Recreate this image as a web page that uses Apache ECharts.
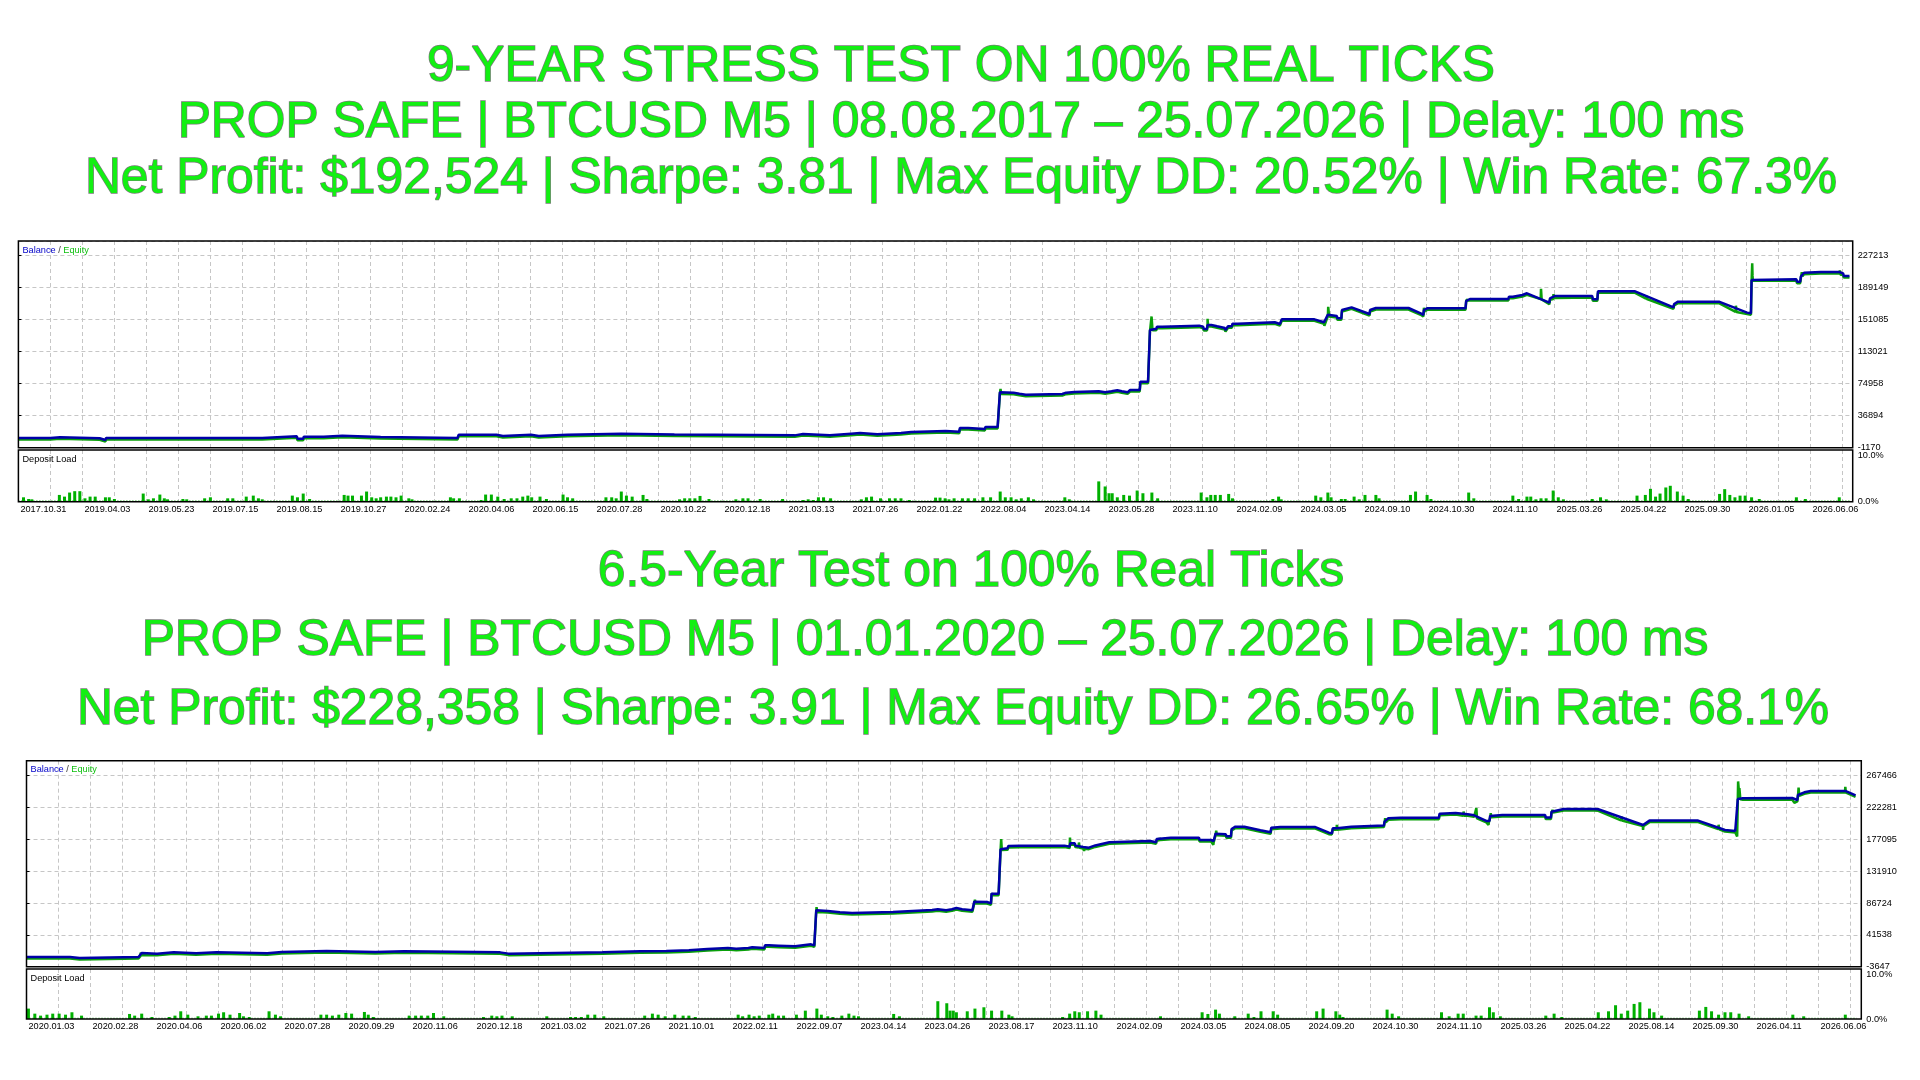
<!DOCTYPE html>
<html><head><meta charset="utf-8">
<script src="https://cdn.jsdelivr.net/npm/echarts@6/dist/echarts.min.js"></script>
<style>html,body{margin:0;padding:0;background:#fff}#c{width:1920px;height:1080px}</style>
</head><body><div id="c"></div>
<script>
// ---------- tick labels ----------
const dates1 = ['2017.10.31','2019.04.03','2019.05.23','2019.07.15','2019.08.15','2019.10.27','2020.02.24','2020.04.06','2020.06.15','2020.07.28','2020.10.22','2020.12.18','2021.03.13','2021.07.26','2022.01.22','2022.08.04','2023.04.14','2023.05.28','2023.11.10','2024.02.09','2024.03.05','2024.09.10','2024.10.30','2024.11.10','2025.03.26','2025.04.22','2025.09.30','2026.01.05','2026.06.06'];
const dates2 = ['2020.01.03','2020.02.28','2020.04.06','2020.06.02','2020.07.28','2020.09.29','2020.11.06','2020.12.18','2021.03.02','2021.07.26','2021.10.01','2022.02.11','2022.09.07','2023.04.14','2023.04.26','2023.08.17','2023.11.10','2024.02.09','2024.03.05','2024.08.05','2024.09.20','2024.10.30','2024.11.10','2025.03.26','2025.04.22','2025.08.14','2025.09.30','2026.04.11','2026.06.06'];
const yTicks1 = ['-1170','36894','74958','113021','151085','189149','227213'];
const yTicks2 = ['-3647','41538','86724','131910','177095','222281','267466'];
const depTicks = ['0.0%','10.0%'];

// ---------- titles ----------
const titleLines1 = ['9-YEAR STRESS TEST ON 100% REAL TICKS','PROP SAFE | BTCUSD M5 | 08.08.2017 \u2013 25.07.2026 | Delay: 100 ms','Net Profit: $192,524 | Sharpe: 3.81 | Max Equity DD: 20.52% | Win Rate: 67.3%'];
const titleLines2 = ['6.5-Year Test on 100% Real Ticks','PROP SAFE | BTCUSD M5 | 01.01.2020 \u2013 25.07.2026 | Delay: 100 ms','Net Profit: $228,358 | Sharpe: 3.91 | Max Equity DD: 26.65% | Win Rate: 68.1%'];

// ---------- chart 1 data (x in date-label units) ----------
const balance1 = [[0,10400],[0.5,10400],[0.52,11200],[0.65,11200],[0.66,10000],[1.27,10000],[1.28,8000],[1.36,8000],[1.37,10400],[3.81,10400],[3.82,12400],[4.35,12400],[4.36,9600],[4.45,9600],[4.46,12000],[4.77,12000],[4.78,13100],[5.06,13100],[5.07,11600],[5.66,11600],[5.67,10400],[6.86,10400],[6.88,14300],[7.47,14300],[7.48,12800],[7.57,12800],[7.58,14300],[8.01,14300],[8.02,12700],[8.13,12700],[8.14,14300],[8.58,14300],[8.60,15500],[9.42,15500],[9.43,14500],[10.25,14500],[10.28,13500],[12.13,13500],[12.14,15100],[12.26,15100],[12.27,13500],[12.68,13500],[12.69,15500],[13.01,15500],[13.02,16300],[13.15,16300],[13.16,14700],[13.42,14700],[13.43,16300],[13.79,16300],[13.80,17500],[13.95,17500],[13.96,18700],[14.49,18700],[14.50,17900],[14.70,17900],[14.71,22300],[14.84,22300],[14.85,21100],[15.10,21100],[15.11,23500],[15.30,23500],[15.335,64700],[15.55,64300],[15.56,63100],[15.64,63100],[15.65,61900],[15.74,61900],[15.75,62700],[16.31,62700],[16.32,64300],[16.37,64300],[16.38,65100],[16.50,65100],[16.51,65900],[16.88,65900],[16.89,64700],[16.98,64700],[16.99,65900],[17.08,65900],[17.09,67100],[17.17,67100],[17.18,65900],[17.24,65900],[17.25,64700],[17.33,64700],[17.34,63900],[17.36,63900],[17.37,67500],[17.52,67500],[17.53,77400],[17.65,77400],[17.68,138800],[17.70,140400],[17.78,140400],[17.79,142800],[17.87,142800],[17.88,144000],[18.45,144000],[18.46,142800],[18.51,142800],[18.52,140000],[18.57,140000],[18.58,144800],[18.64,144800],[18.65,143200],[18.73,143200],[18.74,141200],[18.85,141200],[18.86,138800],[18.89,138800],[18.90,143200],[18.96,143200],[18.97,146400],[19.05,146400],[19.06,148000],[19.63,148000],[19.64,146000],[19.71,146000],[19.74,151500],[20.25,151500],[20.40,148000],[20.41,147600],[20.46,157100],[20.60,155500],[20.61,152700],[20.67,152700],[20.68,162600],[20.83,165800],[21.11,157900],[21.12,162600],[21.21,165000],[21.72,165000],[21.91,158700],[21.95,156700],[21.96,162600],[22.01,164600],[22.61,164600],[22.62,173300],[22.68,175700],[23.28,175700],[23.29,178500],[23.35,178500],[23.36,180500],[23.50,180500],[23.51,182500],[23.57,182500],[23.92,171300],[23.93,176500],[24.01,179300],[24.59,179300],[24.60,175300],[24.67,175300],[24.68,184800],[25.26,184800],[25.86,165800],[25.87,169800],[25.93,172500],[26.57,172500],[27.01,159500],[27.07,158700],[27.08,198300],[27.10,199100],[27.78,199100],[27.79,196300],[27.84,196300],[27.85,202300],[27.90,207000],[28.16,207800],[28.45,207800],[28.46,206200],[28.51,206200],[28.52,203100],[28.61,203100]];
const equitySwings1 = [[15.34,64700],[15.345,70600],[15.355,64600],[17.70,140400],[17.705,156700],[17.72,140400],[18.575,140000],[18.58,153900],[18.59,144800],[20.405,145500],[20.46,157100],[20.465,168200],[20.48,156800],[21.955,156700],[21.96,167000],[21.97,162700],[22.62,173300],[22.625,176500],[22.635,174500],[23.785,177300],[23.79,189600],[23.80,177000],[23.98,177500],[23.985,183200],[24.00,178800],[25.43,177900],[25.435,181500],[25.445,177500],[26.83,162300],[26.835,169500],[26.845,162000],[27.085,198600],[27.09,220100],[27.095,205000],[27.11,199100],[27.845,194700],[27.86,204000],[27.865,209400],[27.875,204500],[28.455,206500],[28.46,211400],[28.47,206200]];
const deposit1 = [[0.08,0.96],[0.16,0.59],[0.21,0.52],[0.64,1.48],[0.72,1.11],[0.80,2.0],[0.88,2.3],[0.96,2.3],[1.04,0.74],[1.12,1.11],[1.20,1.11],[1.36,0.96],[1.42,0.96],[1.50,0.59],[1.95,1.78],[2.03,0.52],[2.11,0.74],[2.21,1.56],[2.28,0.74],[2.33,0.52],[2.57,0.59],[2.63,0.52],[2.91,0.74],[3.00,0.96],[3.27,0.74],[3.35,0.74],[3.56,1.11],[3.67,1.33],[3.75,0.74],[3.81,0.52],[4.28,1.33],[4.36,0.96],[4.45,1.78],[4.55,0.59],[5.09,1.48],[5.15,1.33],[5.22,1.33],[5.36,1.33],[5.44,2.22],[5.52,0.96],[5.59,0.74],[5.66,0.96],[5.75,1.11],[5.82,1.11],[5.90,0.96],[5.98,1.33],[6.10,0.74],[6.15,0.52],[6.75,0.96],[6.80,0.74],[6.89,0.74],[7.23,0.37],[7.30,1.56],[7.39,1.56],[7.49,1.11],[7.59,0.59],[7.70,0.74],[7.79,0.74],[7.88,1.11],[7.96,1.33],[8.02,0.96],[8.15,1.11],[8.25,0.59],[8.51,1.56],[8.58,0.96],[8.66,0.74],[9.18,0.96],[9.27,0.96],[9.34,0.74],[9.42,2.22],[9.50,1.33],[9.59,1.11],[9.76,1.48],[9.82,0.59],[10.33,0.52],[10.41,0.74],[10.49,0.74],[10.57,0.74],[10.65,1.26],[10.79,0.59],[11.21,0.52],[11.32,0.74],[11.40,0.74],[11.59,0.59],[11.94,0.59],[12.26,0.37],[12.34,0.52],[12.42,0.37],[12.50,0.96],[12.58,0.96],[12.69,0.74],[13.17,0.52],[13.25,0.96],[13.33,1.11],[13.47,0.74],[13.61,0.74],[13.70,0.74],[13.79,0.74],[13.92,0.37],[14.33,0.89],[14.40,0.89],[14.48,0.74],[14.54,0.52],[14.62,0.74],[14.75,0.74],[14.84,0.74],[14.94,0.74],[15.07,0.96],[15.19,0.96],[15.34,2.22],[15.42,0.96],[15.51,0.96],[15.59,0.52],[15.67,0.74],[15.78,0.96],[15.86,0.52],[16.35,0.96],[16.42,0.52],[16.88,4.44],[16.98,3.33],[17.04,1.85],[17.09,1.85],[17.17,0.96],[17.27,1.48],[17.36,1.33],[17.48,2.44],[17.57,1.85],[17.71,2.0],[17.80,0.74],[18.48,2.0],[18.57,0.96],[18.63,1.48],[18.70,1.48],[18.78,1.48],[18.91,1.70],[18.97,0.74],[19.60,0.59],[19.69,1.11],[19.73,0.52],[20.27,1.33],[20.35,0.96],[20.46,2.0],[20.51,0.96],[20.67,0.59],[20.73,0.59],[20.87,1.11],[20.95,0.52],[21.04,1.48],[21.21,1.48],[21.26,0.74],[21.75,1.48],[21.83,2.22],[22.01,1.48],[22.07,0.59],[22.66,2.0],[22.74,0.74],[23.35,1.33],[23.44,0.59],[23.57,1.11],[23.63,1.11],[23.71,0.52],[23.79,0.74],[23.87,0.74],[23.98,2.44],[24.06,0.96],[24.14,0.52],[24.59,0.59],[24.72,0.96],[24.81,0.52],[25.29,1.33],[25.42,1.48],[25.50,2.81],[25.58,1.11],[25.65,1.78],[25.74,3.11],[25.81,3.48],[25.92,2.22],[26.01,1.33],[26.09,0.59],[26.58,1.70],[26.66,2.74],[26.74,1.48],[26.82,0.96],[26.90,1.33],[26.98,1.33],[27.08,0.96],[27.20,0.59],[27.78,0.96],[27.92,0.59],[28.45,0.96]];
const depBase1 = [[0,0.18],[28.62,0.18]];

// ---------- chart 2 data ----------
const balance2 = [[0,10100],[0.68,10100],[0.69,8700],[0.83,8700],[0.84,10100],[1.75,10100],[1.80,15800],[1.81,14900],[2.04,14900],[2.05,16700],[2.30,16700],[2.31,15300],[2.65,15300],[2.66,16700],[2.97,16700],[2.98,15300],[3.76,15300],[3.77,17200],[3.99,17200],[4.00,18600],[4.69,18600],[4.70,17200],[5.45,17200],[5.46,18200],[5.90,18200],[5.91,16700],[7.40,16700],[7.41,14900],[7.53,14900],[7.54,16700],[9.00,16700],[9.01,18200],[9.59,18200],[10.00,18600],[10.01,19600],[10.35,19600],[10.36,21500],[10.64,21500],[10.65,22900],[10.96,22900],[10.97,22000],[11.09,22000],[11.10,22900],[11.28,22900],[11.29,23900],[11.34,23900],[11.35,22900],[11.53,22900],[11.54,26700],[11.60,26700],[11.61,26200],[11.75,26200],[11.76,25300],[12.01,25300],[12.02,28100],[12.26,28100],[12.27,26700],[12.31,26700],[12.34,76400],[12.52,75400],[12.53,73500],[12.71,73500],[12.72,72600],[12.90,72600],[12.91,74000],[13.54,74000],[13.55,76800],[14.15,76800],[14.16,77800],[14.24,77800],[14.25,76400],[14.37,76400],[14.38,77800],[14.46,77800],[14.47,79700],[14.53,79700],[14.54,77800],[14.62,77800],[14.63,76400],[14.78,76400],[14.81,88700],[15.01,88200],[15.02,86300],[15.07,86300],[15.08,100000],[15.19,100000],[15.22,163000],[15.33,164400],[15.34,167700],[15.52,168200],[16.22,168200],[16.23,166800],[16.30,166800],[16.31,171500],[16.38,171500],[16.39,168200],[16.51,166300],[16.60,165300],[16.70,168500],[16.92,172900],[16.93,174800],[17.56,174800],[17.57,172900],[17.65,172900],[17.66,177600],[17.88,179500],[18.32,179500],[18.33,176200],[18.51,176200],[18.55,174800],[18.58,185200],[18.74,184300],[18.75,181400],[18.82,181400],[18.83,191800],[18.89,195100],[19.03,195100],[19.28,189900],[19.44,187100],[19.45,193700],[19.59,194700],[20.13,194700],[20.35,186600],[20.40,185700],[20.41,192800],[20.48,192800],[20.49,195100],[20.70,195100],[20.71,196600],[21.21,196600],[21.22,202200],[21.28,207000],[21.47,207900],[22.07,207900],[22.08,213600],[22.10,214500],[22.33,214500],[22.34,212700],[22.52,212700],[22.53,211200],[22.62,211200],[22.81,203200],[22.86,203200],[22.87,210300],[23.06,211700],[23.73,211700],[23.74,208000],[23.82,208000],[23.83,216400],[24.02,220200],[24.50,220200],[24.56,219800],[25.26,197500],[25.27,199900],[25.36,203700],[26.12,203700],[26.54,190400],[26.70,189000],[26.74,234400],[26.82,235400],[27.59,235800],[27.60,233000],[27.67,233000],[27.68,240100],[27.78,243900],[27.88,245800],[28.42,245800],[28.51,242500],[28.58,239600]];
const equitySwings2 = [[1.78,13500],[1.785,18600],[1.795,15200],[12.345,83000],[12.355,76000],[14.815,88600],[14.82,93400],[14.83,88300],[15.085,102900],[15.095,100000],[15.225,163500],[15.23,179500],[15.24,164000],[16.305,181900],[16.315,171500],[16.44,167700],[16.445,174800],[16.455,167400],[16.52,166200],[16.525,163000],[16.535,166000],[17.70,178000],[17.705,181400],[17.715,178200],[18.54,175000],[18.545,171500],[18.55,175000],[18.585,185100],[18.59,191400],[18.60,185000],[20.395,186000],[20.40,183300],[20.405,186000],[20.47,192800],[20.475,199900],[20.485,193000],[21.225,202600],[21.23,209300],[21.24,203500],[22.45,212700],[22.455,218800],[22.465,212600],[22.65,209500],[22.655,223500],[22.665,209000],[22.84,203200],[22.845,199900],[22.85,203200],[22.875,210400],[22.88,216400],[22.89,210500],[23.825,205300],[23.84,217000],[23.845,221200],[23.855,217500],[24.915,206300],[24.92,211700],[24.93,206000],[25.255,198000],[25.26,192800],[25.265,197700],[26.435,193700],[26.44,199900],[26.45,193400],[26.72,189000],[26.73,183300],[26.745,261400],[26.76,245000],[26.765,251900],[26.78,236000],[27.625,231100],[27.685,240300],[27.69,252800],[27.70,241000],[28.415,245800],[28.42,253700],[28.43,245500]];
const deposit2 = [[0.03,2.35],[0.13,1.21],[0.22,0.76],[0.32,0.98],[0.41,1.21],[0.51,1.21],[0.61,0.98],[0.71,1.52],[0.86,0.76],[1.61,1.14],[1.69,0.76],[1.80,1.21],[1.96,0.45],[2.23,0.45],[2.32,0.76],[2.41,1.74],[2.52,0.98],[2.68,0.61],[2.81,0.76],[2.89,0.76],[3.00,1.21],[3.08,1.52],[3.18,0.98],[3.33,1.36],[3.39,0.61],[3.48,0.45],[3.79,1.74],[3.89,0.98],[3.97,0.61],[4.60,0.98],[4.69,0.98],[4.78,0.76],[4.88,0.98],[4.99,1.36],[5.08,1.21],[5.28,1.59],[5.34,0.98],[5.42,0.45],[5.98,0.76],[6.08,0.76],[6.17,0.76],[6.27,0.76],[6.36,1.36],[6.52,0.61],[7.14,0.45],[7.27,0.76],[7.35,0.61],[7.43,0.76],[7.59,0.61],[8.13,0.61],[8.50,0.45],[8.58,0.45],[8.67,0.45],[8.77,0.98],[8.88,0.98],[9.02,0.61],[9.66,0.76],[9.78,1.21],[9.87,0.98],[9.98,0.61],[10.13,0.98],[10.26,0.76],[10.35,0.76],[10.45,0.45],[11.12,0.98],[11.19,0.61],[11.29,0.98],[11.37,0.61],[11.45,0.76],[11.60,0.98],[11.66,1.21],[11.75,0.76],[11.83,0.76],[12.03,0.98],[12.17,1.89],[12.35,2.35],[12.42,0.98],[12.52,0.61],[12.60,0.45],[12.74,0.76],[12.85,1.21],[12.93,0.76],[13.00,0.61],[13.55,1.14],[13.64,0.61],[14.24,4.02],[14.38,3.56],[14.43,1.89],[14.48,1.89],[14.53,1.52],[14.70,1.74],[14.82,2.35],[14.96,2.65],[15.08,1.89],[15.24,1.89],[15.35,0.98],[15.40,0.61],[16.19,0.45],[16.30,1.21],[16.38,1.74],[16.45,1.52],[16.58,1.74],[16.71,1.89],[16.79,0.98],[17.72,0.61],[18.37,1.52],[18.46,1.14],[18.58,2.12],[18.64,1.21],[18.88,0.61],[19.09,1.21],[19.18,0.45],[19.29,1.74],[19.48,1.74],[19.55,0.98],[20.16,1.74],[20.26,2.35],[20.46,1.74],[20.52,0.98],[20.57,0.45],[21.26,2.12],[21.34,1.21],[21.44,0.61],[22.11,1.52],[22.23,0.61],[22.37,1.21],[22.45,1.21],[22.65,0.76],[22.73,0.76],[22.86,2.65],[22.92,1.52],[23.03,0.61],[23.74,0.76],[23.87,1.21],[23.99,0.45],[24.56,1.52],[24.72,1.74],[24.83,3.11],[24.92,1.21],[25.02,1.89],[25.12,3.41],[25.21,3.79],[25.36,2.35],[25.43,1.52],[25.55,0.76],[26.14,1.89],[26.24,2.73],[26.33,1.74],[26.44,0.98],[26.54,1.52],[26.63,1.52],[26.76,1.21],[26.91,0.61],[27.60,0.98],[27.77,0.61],[28.42,0.98]];
const depBase2 = [[0,0.18],[28.6,0.18]];

// ---------- build ----------
const FONT = '"Liberation Sans", Arial, sans-serif';
const grids = [], xAxes = [], yAxes = [], series = [], titles = [];

function addTitleLines(lines, centers, ys) {
  lines.forEach((t, i) => titles.push({
    text: t, left: centers[i], top: ys[i], textAlign: 'center', textVerticalAlign: 'middle', padding: 0,
    textStyle: { fontFamily: FONT, fontSize: 49.8, fontWeight: 'normal', color: '#12f012', textBorderColor: '#7a7a7a', textBorderWidth: 1.4 }
  }));
}

function addChart(geo, dates, yTicks, yMin, yMax, yInt, depMax, bal, swings, dep, base) {
  const g0 = grids.length;
  grids.push({ left: geo.left, top: geo.top, width: geo.width, height: geo.height, show: true, borderColor: '#000', borderWidth: 1.5, backgroundColor: 'transparent', z: 10 });
  grids.push({ left: geo.left, top: geo.top + 1.5, width: geo.width, height: geo.height, show: false });
  grids.push({ left: geo.left, top: geo.dTop, width: geo.width, height: geo.dHeight, show: true, borderColor: '#000', borderWidth: 1.5, backgroundColor: 'transparent', z: 10 });
  const split = { show: true, lineStyle: { color: '#c6c6c6', type: [4, 3], width: 1 } };
  const xb = { type: 'value', min: 0, max: geo.xMax, interval: 0.5, axisLine: { show: false }, axisTick: { show: false } };
  xAxes.push(Object.assign({}, xb, { gridIndex: g0, splitLine: split, axisLabel: { show: false } }));
  xAxes.push(Object.assign({}, xb, { gridIndex: g0 + 1, show: false, splitLine: { show: false } }));
  xAxes.push(Object.assign({}, xb, { gridIndex: g0 + 2, splitLine: split,
    axisLabel: { show: true, align: 'left', margin: 3, padding: [0, 0, 0, 2], color: '#000', fontFamily: FONT, fontSize: 9.2,
      formatter: v => { const k = Math.round(v); return (Math.abs(v - k) < 1e-6 && dates[k]) ? dates[k] : ''; } } }));
  const yLab = v => { const k = Math.round((v - yMin) / yInt); return (Math.abs(v - (yMin + k * yInt)) < 1 && yTicks[k] !== undefined) ? yTicks[k] : ''; };
  yAxes.push({ type: 'value', gridIndex: g0, position: 'right', min: yMin, max: yMax, interval: yInt,
    axisLine: { show: false }, axisTick: { show: true, length: 3, lineStyle: { color: '#000' } }, splitLine: split,
    axisLabel: { show: true, margin: 5, color: '#000', fontFamily: FONT, fontSize: 9.2, formatter: yLab, showMaxLabel: false } });
  yAxes.push({ type: 'value', gridIndex: g0 + 1, min: yMin, max: yMax, interval: yInt, show: false, splitLine: { show: false } });
  yAxes.push({ type: 'value', gridIndex: g0 + 2, position: 'right', min: 0, max: depMax, interval: 10,
    axisLine: { show: false }, axisTick: { show: false }, splitLine: { show: false },
    axisLabel: { show: true, margin: 5, color: '#000', fontFamily: FONT, fontSize: 9.2, showMaxLabel: false,
      formatter: v => v === 0 ? depTicks[0] : (Math.abs(v - 10) < 1e-6 ? depTicks[1] : '') } });
  const equity = bal.concat(swings).sort((a, b) => a[0] - b[0]);
  series.push({ type: 'line', xAxisIndex: g0 + 1, yAxisIndex: g0 + 1, data: equity, symbol: 'none', lineStyle: { color: '#0aa00a', width: 2.5 }, z: 2 });
  series.push({ type: 'line', xAxisIndex: g0, yAxisIndex: g0, data: bal, symbol: 'none', lineStyle: { color: '#0000a8', width: 2.5 }, z: 3 });
  series.push({ type: 'line', xAxisIndex: g0 + 2, yAxisIndex: g0 + 2, data: base, symbol: 'none', lineStyle: { color: '#00a000', width: 1, type: [1, 2] }, z: 2 });
  series.push({ type: 'bar', xAxisIndex: g0 + 2, yAxisIndex: g0 + 2, data: dep, barWidth: 3, itemStyle: { color: '#00b000' }, z: 3 });
  titles.push({ text: '{b|Balance} {s|/} {e|Equity}', left: geo.left + 4, top: geo.top + 9, textVerticalAlign: 'middle', padding: 0,
    textStyle: { fontFamily: FONT, fontSize: 9.2, fontWeight: 'normal', color: '#333',
      rich: { b: { color: '#0000c8', fontFamily: FONT, fontSize: 9.2 }, s: { color: '#333', fontFamily: FONT, fontSize: 9.2 }, e: { color: '#10c010', fontFamily: FONT, fontSize: 9.2 } } } });
  titles.push({ text: 'Deposit Load', left: geo.left + 4, top: geo.dTop + 9, textVerticalAlign: 'middle', padding: 0,
    textStyle: { fontFamily: FONT, fontSize: 9.2, fontWeight: 'normal', color: '#000' } });
}

addTitleLines(titleLines1, [961, 961, 961], [67.5, 123, 179]);
addTitleLines(titleLines2, [971, 925, 953], [572.5, 641.4, 710.7]);

addChart({ left: 18.4, top: 241, width: 1834.3, height: 206.7, dTop: 450, dHeight: 51.7, xMax: 28.66 },
  dates1, yTicks1, -1170, 244700, 38063.8, 11.3, balance1, equitySwings1, deposit1, depBase1);
addChart({ left: 26.5, top: 760.7, width: 1834.8, height: 206, dTop: 969, dHeight: 50, xMax: 28.67 },
  dates2, yTicks2, -3647, 288750, 45185.5, 11.3, balance2, equitySwings2, deposit2, depBase2);

const chart = echarts.init(document.getElementById('c'), null, { renderer: 'canvas' });
chart.setOption({ animation: false, backgroundColor: '#fff', title: titles, grid: grids, xAxis: xAxes, yAxis: yAxes, series: series });
</script></body></html>
